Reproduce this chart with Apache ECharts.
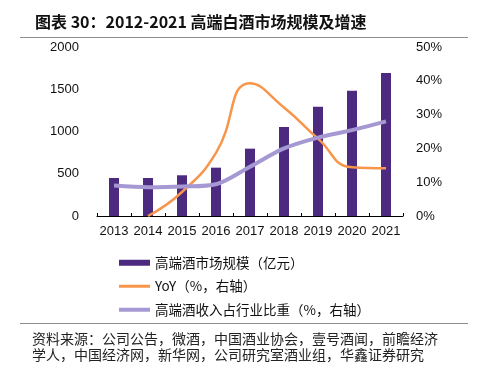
<!DOCTYPE html>
<html>
<head>
<meta charset="utf-8">
<script src="https://cdn.jsdelivr.net/npm/echarts@6/dist/echarts.min.js"></script>
<style>
html,body{margin:0;padding:0;background:#fff;}
#c{width:478px;height:365px;}
</style>
</head>
<body>
<div id="c"></div>
<script>
var years = ['2013','2014','2015','2016','2017','2018','2019','2020','2021'];
var marketSize = [450, 450, 482, 572, 797, 1053, 1294, 1483, 1692];
var yoy = [null, 0, 7.1, 18.7, 39.3, 32.1, 22.9, 14.4, 14.1];
var share = [9.0, 8.5, 8.7, 9.4, 14.6, 20.0, 23.2, 25.4, 28.0];
var leftTicks = [0, 500, 1000, 1500, 2000];
var rightTicks = [0, 10, 20, 30, 40, 50];
var names = ['高端酒市场规模（亿元）', 'YoY（%，右轴）', '高端酒收入占行业比重（%，右轴）'];
var titleText = '图表 30：2012-2021 高端白酒市场规模及增速';
var sourceText = '资料来源：公司公告，微酒，中国酒业协会，壹号酒闻，前瞻经济\n学人，中国经济网，新华网，公司研究室酒业组，华鑫证券研究';

var cjk = '"Noto Sans CJK SC", sans-serif';
var num = '"Liberation Sans", Arial, sans-serif';

var chart = echarts.init(document.getElementById('c'), null, {renderer: 'canvas'});
chart.setOption({
  animation: false,
  backgroundColor: '#fff',
  title: {
    text: titleText,
    left: 30, top: 9,
    textStyle: {fontFamily: cjk, fontSize: 16, fontWeight: 'bold', color: '#111'}
  },
  grid: {left: 97, right: 75, top: 47, bottom: 149, containLabel: false},
  legend: {
    orient: 'vertical',
    left: 117, top: 256,
    padding: 0,
    itemWidth: 31, itemHeight: 6,
    itemGap: 10,
    textStyle: {fontFamily: cjk, fontSize: 13.5, color: '#111'},
    data: [
      {name: names[0], icon: 'rect'},
      {name: names[1], itemStyle: {opacity: 0}, lineStyle: {color: '#f7964a', width: 3}},
      {name: names[2], itemStyle: {opacity: 0}, lineStyle: {color: '#a699d3', width: 4}}
    ]
  },
  xAxis: {
    type: 'category',
    data: years,
    axisLine: {lineStyle: {color: '#000', width: 1}},
    axisTick: {show: true, inside: true, length: 3, lineStyle: {color: '#000'}},
    axisLabel: {fontFamily: num, fontSize: 13, color: '#111', margin: 9, interval: 0}
  },
  yAxis: [
    {
      type: 'value', min: leftTicks[0], max: leftTicks[leftTicks.length-1], interval: 500,
      axisLine: {show: false}, axisTick: {show: false}, splitLine: {show: false},
      axisLabel: {fontFamily: num, fontSize: 13, color: '#111', margin: 18, formatter: function (v) { return String(v); }}
    },
    {
      type: 'value', min: rightTicks[0], max: rightTicks[rightTicks.length-1], interval: 10,
      axisLine: {show: false}, axisTick: {show: false}, splitLine: {show: false},
      axisLabel: {fontFamily: num, fontSize: 13, color: '#111', margin: 13, formatter: '{value}%'}
    }
  ],
  series: [
    {
      name: names[0], type: 'bar', data: marketSize, barWidth: 10,
      itemStyle: {color: '#4b2a80'}
    },
    {
      name: names[1], type: 'line', yAxisIndex: 1, data: yoy, smooth: 0.5,
      symbol: 'none', lineStyle: {color: '#f7964a', width: 2.5}, itemStyle: {color: '#f7964a'}
    },
    {
      name: names[2], type: 'line', yAxisIndex: 1, data: share, smooth: 0.3,
      symbol: 'none', lineStyle: {color: '#a699d3', width: 4}, itemStyle: {color: '#a699d3'}
    }
  ],
  graphic: [
    {type: 'line', shape: {x1: 20, y1: 37.5, x2: 468, y2: 37.5}, style: {stroke: '#8c8c8c', lineWidth: 1}},
    {type: 'line', shape: {x1: 20, y1: 323.5, x2: 468, y2: 323.5}, style: {stroke: '#8c8c8c', lineWidth: 1}},
    {type: 'text', left: 32, top: 331, style: {text: sourceText, font: '14px ' + cjk, lineHeight: 16, fill: '#222'}}
  ]
});
</script>
</body>
</html>
